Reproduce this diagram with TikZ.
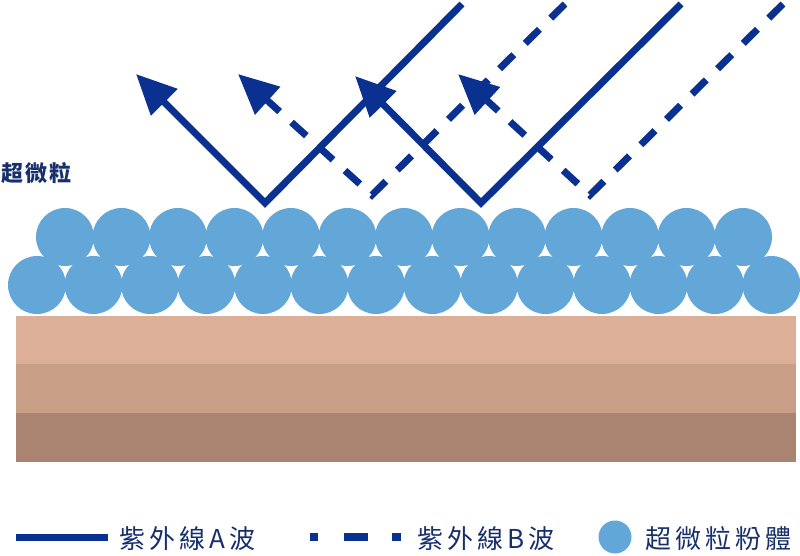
\documentclass[tikz,border=0pt]{standalone}
\usepackage{fontspec}
\newfontfamily\cjk[LetterSpace=10]{Noto Sans CJK TC}
\newfontfamily\cjkl[LetterSpace=16]{Noto Sans CJK TC}
\usetikzlibrary{arrows.meta}
\definecolor{uvblue}{HTML}{0B3190}
\definecolor{txtblue}{HTML}{17306B}
\definecolor{ball}{HTML}{63A7D9}
\definecolor{skinA}{HTML}{DCAF98}
\definecolor{skinB}{HTML}{C89E86}
\definecolor{skinC}{HTML}{AA8470}
\tikzset{
 ray/.style={draw=uvblue,line width=7pt,line join=miter,-{Triangle[length=40pt,width=36pt]}},
 dray/.style={ray,dash pattern=on 20pt off 16pt},
 ball/.style={circle,fill=ball,minimum size=58pt,inner sep=0pt},
 lbl/.style={text=txtblue,anchor=west,inner sep=0pt},
}
\begin{document}
\begin{tikzpicture}[x=1pt,y=-1pt]
\useasboundingbox (0,0) rectangle (800,556);
\fill[skinA] (16,316) rectangle (796,364);
\fill[skinB] (16,364) rectangle (796,413);
\fill[skinC] (16,413) rectangle (796,462);
\foreach \i in {0,...,12} \node[ball] (t\i) at (65+56.5*\i,237) {};
\foreach \i in {0,...,13} \node[ball] (b\i) at (37+56.5*\i,285) {};
\coordinate (a1s) at (462,4); \coordinate (a1m) at (265,203); \coordinate (a1e) at (136,74);
\coordinate (a2s) at (681,4); \coordinate (a2m) at (481,203); \coordinate (a2e) at (355,76);
\coordinate (b1s) at (565,4); \coordinate (b1m) at (372,195); \coordinate (b1e) at (238,74);
\coordinate (b2s) at (783,4); \coordinate (b2m) at (590,195); \coordinate (b2e) at (458,74);
\draw[dray] (b1s) -- (b1m) -- (b1e);
\draw[dray] (b2s) -- (b2m) -- (b2e);
\draw[ray] (a1s) -- (a1m) -- (a1e);
\draw[ray] (a2s) -- (a2m) -- (a2e);
\node[lbl,font=\cjk\bfseries\fontsize{22}{22}\selectfont] (lab) at (1,173) {超微粒};
\coordinate (l1a) at (16,537); \coordinate (l1b) at (108,537);
\draw[uvblue,line width=7pt] (l1a) -- (l1b);
\node[lbl,font=\cjkl\fontsize{26}{26}\selectfont] (la) at (119,539) {紫外線A波};
\coordinate (l2a) at (310,537); \coordinate (l2b) at (401,537);
\draw[uvblue,line width=8pt,dash pattern=on 8pt off 26pt on 24pt off 24pt on 9pt] (l2a) -- (l2b);
\node[lbl,font=\cjkl\fontsize{26}{26}\selectfont] (lb) at (417,539) {紫外線B波};
\node[circle,fill=ball,minimum size=33pt,inner sep=0pt] (lc) at (615,537) {};
\node[lbl,font=\cjkl\fontsize{26}{26}\selectfont] (lcc) at (645,539) {超微粒粉體};
\end{tikzpicture}
\end{document}
